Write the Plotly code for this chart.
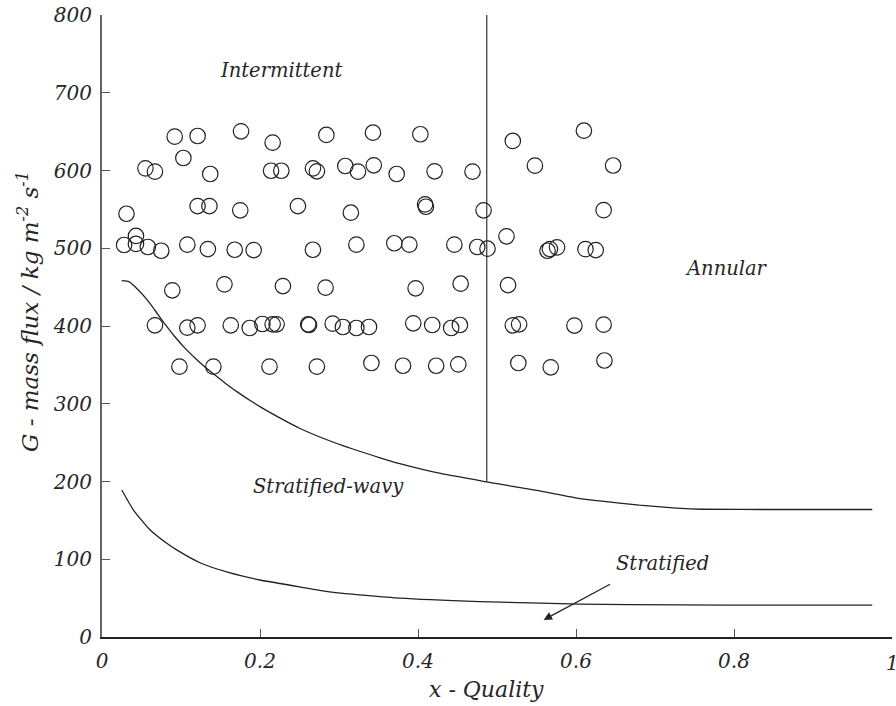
import plotly.graph_objects as go

# ---- data ----
pts_x = [
    0.092, 0.121, 0.176, 0.216, 0.284, 0.343, 0.403, 0.520, 0.610,
    0.055, 0.067, 0.103, 0.137, 0.214, 0.227, 0.267, 0.272, 0.308, 0.324, 0.344, 0.373, 0.421, 0.469, 0.548, 0.647,
    0.031, 0.121, 0.136, 0.175, 0.248, 0.315, 0.409, 0.410, 0.483, 0.635,
    0.028, 0.043, 0.043, 0.058, 0.075, 0.108, 0.134, 0.168, 0.192, 0.267, 0.322, 0.370, 0.389, 0.446, 0.475, 0.488,
    0.512, 0.564, 0.567, 0.576, 0.612, 0.625,
    0.089, 0.155, 0.229, 0.283, 0.397, 0.454, 0.514,
    0.067, 0.108, 0.121, 0.163, 0.187, 0.203, 0.216, 0.221, 0.261, 0.262, 0.292, 0.305, 0.322, 0.338, 0.394, 0.418,
    0.442, 0.453, 0.520, 0.528, 0.598, 0.635,
    0.098, 0.141, 0.212, 0.272, 0.341, 0.381, 0.423, 0.451, 0.527, 0.568, 0.636,
]
pts_g = [
    643.5, 644.4, 650.4, 635.8, 645.7, 648.6, 646.6, 638.0, 651.2,
    602.8, 598.5, 616.1, 595.5, 599.7, 599.7, 602.8, 599.0, 605.8, 598.5, 606.7, 595.5, 599.0, 598.5, 606.2, 606.4,
    544.4, 554.3, 554.3, 548.8, 554.3, 545.7, 556.5, 553.4, 548.8, 549.0,
    504.2, 515.8, 505.5, 501.6, 496.8, 504.6, 499.0, 498.1, 497.7, 498.1, 504.6, 506.4, 504.6, 504.6, 501.6, 499.4,
    515.4, 496.8, 499.0, 501.2, 498.8, 497.7,
    445.9, 453.6, 451.4, 449.3, 448.5, 454.4, 452.7,
    400.9, 397.8, 400.9, 400.9, 397.4, 402.6, 402.2, 402.2, 402.2, 401.3, 403.0, 398.7, 397.4, 398.7, 403.5, 401.3,
    397.4, 401.3, 400.9, 402.2, 400.6, 401.7,
    347.7, 347.7, 347.7, 347.7, 352.4, 348.9, 348.9, 350.7, 352.4, 346.9, 355.6,
]

upper_x = [0.025, 0.034, 0.046, 0.059, 0.071, 0.080, 0.092, 0.105, 0.118, 0.130, 0.141, 0.156, 0.173, 0.190,
           0.202, 0.221, 0.250, 0.293, 0.352, 0.377, 0.430, 0.487, 0.504, 0.550, 0.605, 0.630, 0.680,
           0.727, 0.760, 0.850, 0.975]
upper_g = [458.3, 457.0, 446.3, 431.3, 414.5, 402.0, 386.5, 371.5, 358.5, 347.5, 338.5, 326.5, 314.0, 302.5,
           295.0, 284.0, 268.5, 250.5, 230.5, 223.0, 210.0, 199.5, 196.5, 188.5, 178.0, 175.0, 169.5,
           165.8, 164.3, 164.0, 164.0]

lower_x = [0.025, 0.040, 0.061, 0.082, 0.0945, 0.124, 0.160, 0.200, 0.250, 0.293, 0.377, 0.478, 0.605, 0.732,
           0.850, 0.975]
lower_g = [189.0, 163.0, 137.6, 120.5, 112.0, 95.5, 83.0, 73.3, 64.5, 57.5, 50.0, 45.6, 42.4, 41.2,
           41.0, 41.0]

divider_x = [0.487, 0.487]
divider_g = [199.5, 800.0]

x_ticks = [0, 0.2, 0.4, 0.6, 0.8]
x_tick_text = ["0", "0.2", "0.4", "0.6", "0.8"]
x_last_tick = 1
g_ticks = [0, 100, 200, 300, 400, 500, 600, 700, 800]

region_labels = ["Intermittent", "Annular", "Stratified-wavy", "Stratified"]
region_x = [0.226, 0.79, 0.287, 0.709]
region_g = [729, 474, 194, 95]

arrow_tail = (0.645, 69.0)
arrow_head = (0.559, 22.0)

FONT = "DejaVu Serif"
INK = "#222222"
TXT = "#262626"
TICK_SIZE = 20

fig = go.Figure()
fig.add_trace(go.Scatter(x=upper_x, y=upper_g, mode="lines",
                         line=dict(color=INK, width=1.3, shape="spline", smoothing=0.5), hoverinfo="skip"))
fig.add_trace(go.Scatter(x=lower_x, y=lower_g, mode="lines",
                         line=dict(color=INK, width=1.3, shape="spline", smoothing=0.5), hoverinfo="skip"))
fig.add_trace(go.Scatter(x=divider_x, y=divider_g, mode="lines", line=dict(color="#444444", width=1.3),
                         hoverinfo="skip"))
fig.add_trace(go.Scatter(x=pts_x, y=pts_g, mode="markers",
                         marker=dict(symbol="circle-open", size=15.5, color=INK, line=dict(width=1.2, color=INK))))

for t, xx, gg in zip(region_labels, region_x, region_g):
    fig.add_annotation(x=xx, y=gg, text=t, showarrow=False,
                       font=dict(family=FONT, size=19.5, color=TXT, style="italic"))

fig.add_annotation(x=arrow_head[0], y=arrow_head[1], ax=arrow_tail[0], ay=arrow_tail[1],
                   xref="x", yref="y", axref="x", ayref="y", text="", showarrow=True,
                   arrowhead=2, arrowsize=1.4, arrowwidth=1.2, arrowcolor=INK)

fig.add_annotation(x=x_last_tick, y=0, xref="x", yref="paper", yanchor="top", yshift=-12,
                   text=str(x_last_tick), showarrow=False,
                   font=dict(family=FONT, size=TICK_SIZE, color=TXT, style="italic"))

fig.add_annotation(x=0.487, y=0, xref="x", yref="paper", yanchor="top", yshift=-38,
                   text="x - Quality", showarrow=False,
                   font=dict(family=FONT, size=22, color=TXT, style="italic"))
fig.add_annotation(x=0, y=418, xref="paper", yref="y", xanchor="center", xshift=-74,
                   textangle=-90, text="G - mass flux / kg m<sup>-2</sup> s<sup>-1</sup>", showarrow=False,
                   font=dict(family=FONT, size=23, color=TXT, style="italic"))

fig.update_layout(
    width=896, height=706,
    margin=dict(l=102, r=4, t=15, b=69),
    paper_bgcolor="white", plot_bgcolor="white",
    showlegend=False,
    font=dict(family=FONT, size=TICK_SIZE, color=TXT, style="italic"),
)
fig.update_xaxes(range=[0, 1], tickvals=x_ticks + [x_last_tick], ticktext=x_tick_text + [""],
                 showgrid=False, zeroline=False,
                 showline=True, linecolor="#222", linewidth=1.6, ticks="inside", ticklen=8,
                 tickcolor="#555", tickwidth=1.3, ticklabelstandoff=5,
                 tickfont=dict(family=FONT, size=TICK_SIZE, color=TXT, style="italic"))
fig.update_yaxes(range=[0, 800], tickvals=g_ticks, showgrid=False, zeroline=False,
                 showline=True, linecolor="#666", linewidth=2, ticks="inside", ticklen=8,
                 tickcolor="#555", tickwidth=1.3, ticklabelstandoff=4,
                 tickfont=dict(family=FONT, size=TICK_SIZE, color=TXT, style="italic"))

fig.write_html("out.html")
